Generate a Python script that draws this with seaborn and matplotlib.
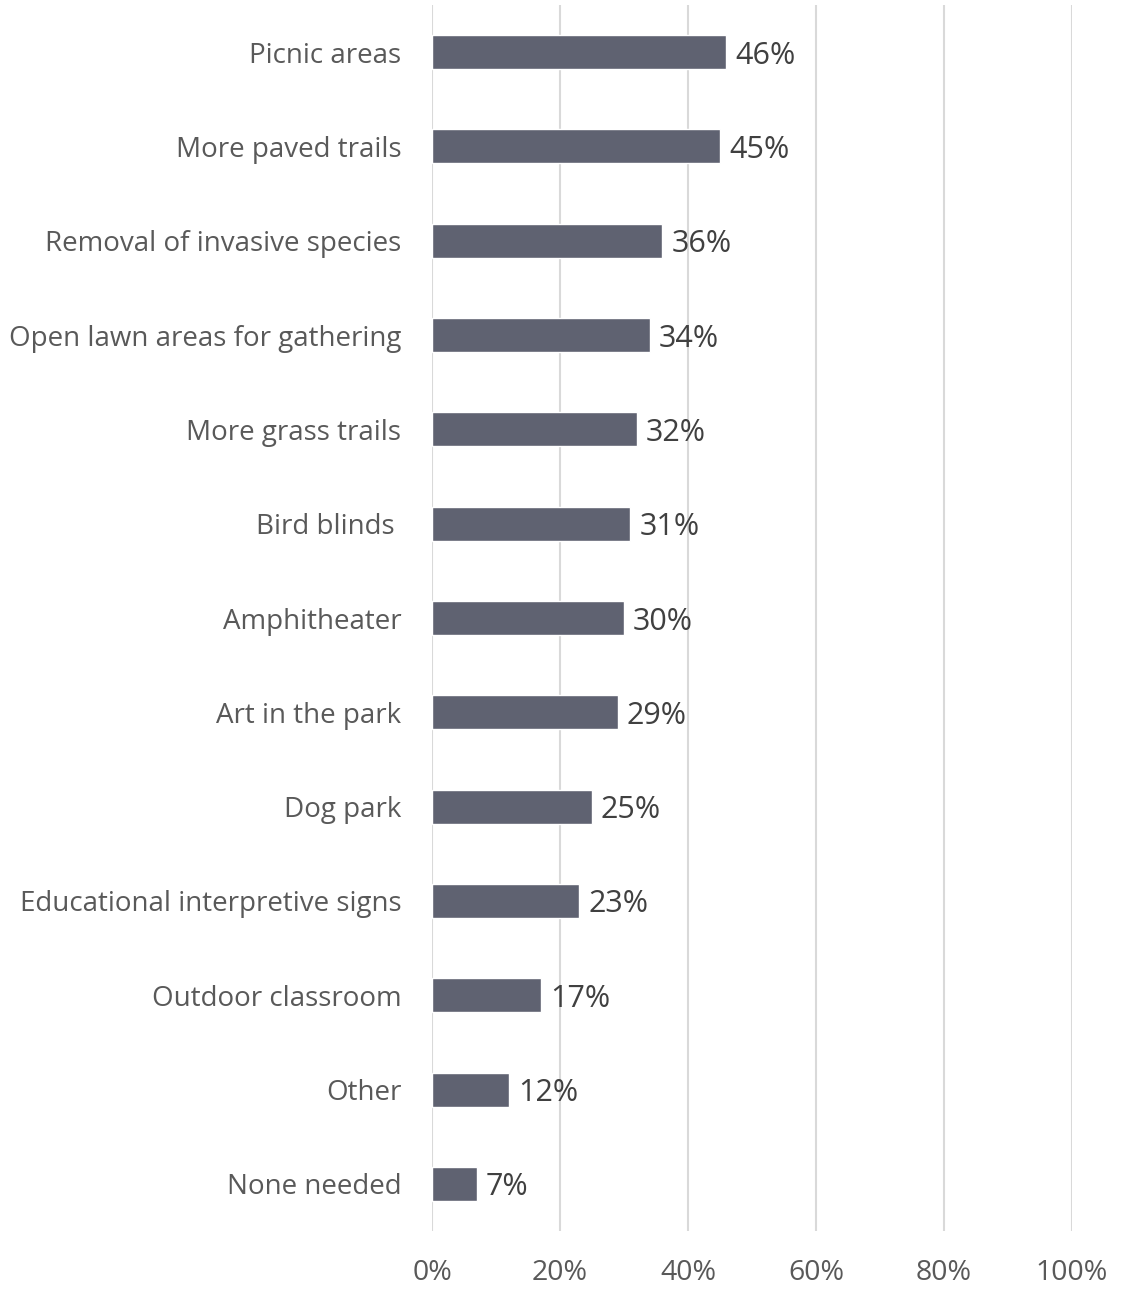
import matplotlib
matplotlib.use("Agg")
import matplotlib.pyplot as plt
import seaborn as sns
import pandas as pd

features = [
    "Picnic areas",
    "More paved trails",
    "Removal of invasive species",
    "Open lawn areas for gathering",
    "More grass trails",
    "Bird blinds ",
    "Amphitheater",
    "Art in the park",
    "Dog park",
    "Educational interpretive signs",
    "Outdoor classroom",
    "Other",
    "None needed",
]
shares = [46, 45, 36, 34, 32, 31, 30, 29, 25, 23, 17, 12, 7]
x_ticks = [0, 20, 40, 60, 80, 100]

df = pd.DataFrame({"feature": features, "share": shares})

sns.set_theme(style="white")
plt.rcParams["font.family"] = ["Open Sans", "DejaVu Sans"]

fig = plt.figure(figsize=(11.21, 12.89), dpi=100)
ax = fig.add_axes([432 / 1121, (1289 - 1231) / 1289, 640 / 1121, 1226 / 1289])

sns.barplot(data=df, x="share", y="feature", orient="h", color="#5f6271",
            saturation=1, width=0.36, ax=ax, zorder=3)

for p, v in zip(ax.patches, shares):
    ax.text(p.get_width() + 1.4, p.get_y() + p.get_height() / 2, f"{v}%",
            va="center_baseline", ha="left", fontsize=22, color="#404040")

ax.set_xlim(0, 100)
ax.set_ylim(len(features) - 0.5, -0.5)
ax.set_xticks(x_ticks)
ax.set_xticklabels([f"{t}%" for t in x_ticks])
ax.grid(axis="x", color="#d9d9d9", linewidth=1.5, zorder=0)
ax.grid(axis="y", visible=False)
for s in ax.spines.values():
    s.set_visible(False)
ax.tick_params(axis="x", length=0, pad=20, labelsize=20.5, labelcolor="#595959")
ax.tick_params(axis="y", length=0, pad=22, labelsize=20, labelcolor="#595959")
ax.set_xlabel("")
ax.set_ylabel("")

fig.savefig("out.png", dpi=100)
